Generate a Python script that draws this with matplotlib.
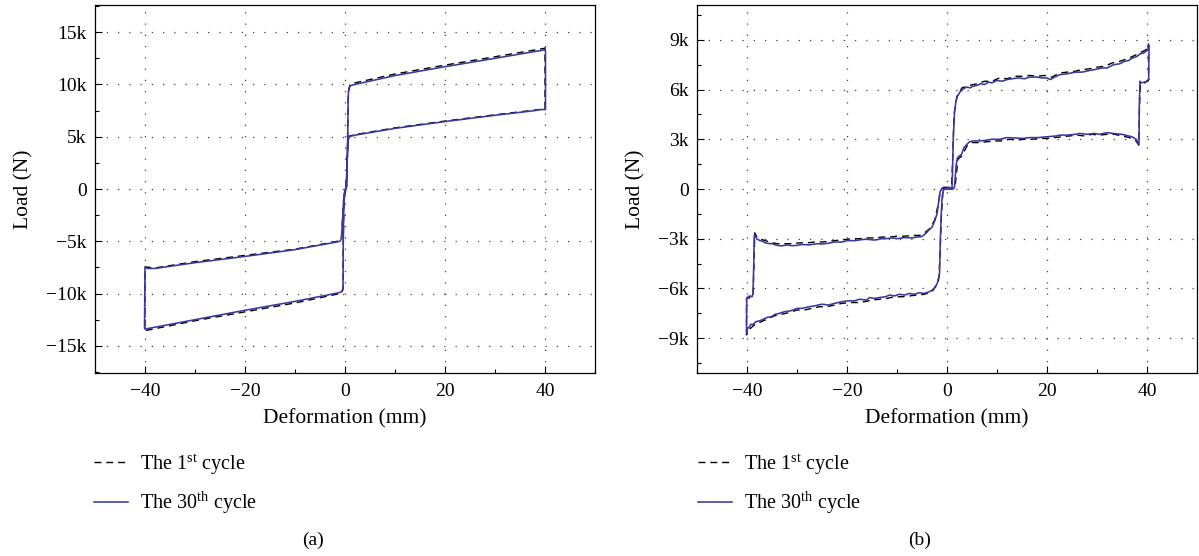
import numpy as np
import matplotlib
matplotlib.use("Agg")
import matplotlib.pyplot as plt
from matplotlib.ticker import MultipleLocator, FuncFormatter

plt.rcParams['font.family'] = ['Liberation Serif', 'DejaVu Serif']
plt.rcParams['mathtext.fontset'] = 'custom'
plt.rcParams['mathtext.rm'] = 'Liberation Serif'
plt.rcParams['mathtext.it'] = 'Liberation Serif:italic'

BLUE = '#3a379f'

# (a) deformation (mm), load (kN) -- 30th cycle
a_30th = [
    (0.33, 0.3), (0.5, 4.0), (0.67, 9.2), (1.0, 9.85), (1.5, 9.95), (10, 10.85),
    (20, 11.7), (30, 12.5), (39.8, 13.3), (40.0, 13.4), (40.1, 13.2), (40.1, 7.6),
    (39, 7.6), (38, 7.5), (30, 7.05), (20, 6.45), (10, 5.8), (2, 5.15), (0.8, 5.0),
    (0.6, 4.5), (0.3, 1.0), (0.1, -0.2), (-0.2, -1.0), (-0.35, -5.0), (-0.4, -9.5),
    (-0.7, -9.85), (-1.5, -9.95), (-10, -10.75), (-20, -11.6), (-30, -12.5),
    (-40, -13.4), (-40.1, -13.3), (-40, -7.5), (-39.5, -7.6), (-38, -7.6),
    (-30, -7.05), (-20, -6.45), (-10, -5.8), (-2, -5.1), (-1, -5.0), (-0.7, -4.7),
    (-0.5, -3.0), (-0.2, -0.5), (0.1, 0.0), (0.33, 0.3),
]
# (a) 1st cycle
a_1st = [
    (0.3, 0.3), (0.5, 4.2), (0.65, 9.3), (1.0, 10.0), (1.5, 10.1), (10, 11.0),
    (20, 11.85), (30, 12.65), (39.8, 13.45), (40.0, 13.5), (40.0, 7.65),
    (38, 7.55), (30, 7.1), (20, 6.5), (10, 5.85), (2, 5.2), (0.8, 5.05),
    (0.6, 4.5), (0.3, 1.0), (0.1, -0.2), (-0.2, -1.0), (-0.35, -5.0), (-0.4, -9.6),
    (-0.7, -9.95), (-1.5, -10.05), (-10, -10.9), (-20, -11.75), (-30, -12.6),
    (-40, -13.55), (-40, -7.45), (-38, -7.55), (-30, -6.95), (-20, -6.35),
    (-10, -5.75), (-2, -5.05), (-1, -4.95), (-0.7, -4.6), (-0.5, -3.0),
    (-0.2, -0.5), (0.1, 0.0), (0.3, 0.3),
]

# (b) 30th cycle
b_30th = [
    (-0.9, 0.05), (-0.3, 0.02), (0.3, 0.08), (0.8, 0.05), (1.0, 0.1), (1.1, 1.0),
    (1.25, 3.0), (1.5, 4.6), (1.8, 5.3), (2.1, 5.6), (2.6, 5.85), (3.3, 6.05),
    (4.0, 6.15), (4.6, 6.1), (5.2, 6.2), (6.0, 6.25), (6.7, 6.35), (7.5, 6.3),
    (8.3, 6.45), (9.0, 6.4), (10.0, 6.55), (11.0, 6.5), (12.0, 6.6), (13.0, 6.65),
    (14.3, 6.7), (15.5, 6.65), (16.5, 6.75), (18.0, 6.75), (19.0, 6.7), (20.0, 6.7),
    (20.7, 6.6), (21.5, 6.75), (22.6, 6.9), (24.0, 6.95), (25.7, 7.05), (27.0, 7.05),
    (28.5, 7.15), (29.5, 7.2), (31.0, 7.3), (32.0, 7.3), (33.3, 7.5), (34.5, 7.55),
    (35.5, 7.7), (36.3, 7.75), (37.1, 7.9), (38.0, 8.0), (38.6, 8.15), (39.3, 8.2),
    (39.8, 8.3), (40.2, 8.4), (40.3, 8.7), (40.4, 8.6), (40.35, 6.6), (40.2, 6.5),
    (39.5, 6.45), (38.8, 6.4), (38.6, 6.5), (38.45, 5.0), (38.4, 2.7), (38.2, 2.8),
    (37.8, 3.0), (37.0, 3.15), (36.3, 3.2), (35.0, 3.3), (33.3, 3.35), (32.0, 3.4),
    (30.5, 3.3), (29.5, 3.35), (28.0, 3.3), (26.5, 3.35), (25.7, 3.3), (24.0, 3.25),
    (22.5, 3.25), (21.9, 3.2), (20.0, 3.15), (18.1, 3.1), (16.5, 3.1), (15.0, 3.05),
    (14.3, 3.07), (12.0, 3.1), (10.5, 3.0), (9.0, 3.0), (8.0, 2.95), (6.7, 2.9),
    (5.2, 2.9), (4.5, 2.85), (4.0, 2.7), (3.4, 2.5), (2.9, 2.1), (2.5, 2.0),
    (2.1, 1.9), (1.8, 1.4), (1.5, 0.1), (1.2, 0.0), (0.6, -0.02), (0.0, 0.03),
    (-0.5, 0.0), (-0.8, -0.1), (-1.0, -0.6), (-1.15, -1.5), (-1.3, -2.7),
    (-1.4, -4.0), (-1.5, -5.1), (-1.7, -5.5), (-2.05, -5.75), (-2.6, -6.0),
    (-3.2, -6.15), (-4.0, -6.25), (-4.7, -6.3), (-5.5, -6.25), (-6.5, -6.35),
    (-7.5, -6.3), (-8.5, -6.4), (-9.5, -6.35), (-10.5, -6.45), (-11.5, -6.4),
    (-12.3, -6.5), (-13.5, -6.55), (-14.5, -6.6), (-15.5, -6.55), (-16.1, -6.7),
    (-17.5, -6.65), (-18.5, -6.75), (-19.9, -6.75), (-21.0, -6.8), (-22.5, -6.9),
    (-23.7, -7.0), (-25.0, -6.95), (-26.5, -7.05), (-27.5, -7.1), (-29.0, -7.2),
    (-30.0, -7.2), (-31.3, -7.35), (-32.5, -7.4), (-33.5, -7.5), (-34.3, -7.55),
    (-35.1, -7.7), (-36.0, -7.75), (-37.4, -7.95), (-38.2, -8.0), (-38.9, -8.2),
    (-39.2, -8.15), (-39.6, -8.35), (-39.9, -8.4), (-40.05, -8.7), (-40.1, -8.5),
    (-40.05, -6.6), (-39.8, -6.5), (-39.4, -6.45), (-39.0, -6.5), (-38.8, -6.35),
    (-38.65, -4.5), (-38.55, -2.8), (-38.4, -2.75), (-38.1, -3.0), (-37.5, -3.1),
    (-36.9, -3.15), (-36.2, -3.27), (-35.0, -3.3), (-34.0, -3.4), (-33.1, -3.43),
    (-32.0, -3.38), (-31.0, -3.42), (-30.0, -3.4), (-29.0, -3.35), (-27.5, -3.37),
    (-26.0, -3.3), (-25.0, -3.32), (-23.7, -3.27), (-22.5, -3.2), (-21.0, -3.2),
    (-19.9, -3.11), (-18.5, -3.12), (-17.0, -3.05), (-16.1, -3.03), (-14.5, -3.08),
    (-13.0, -3.0), (-12.3, -3.0), (-11.0, -2.95), (-10.0, -3.0), (-8.5, -2.93),
    (-7.0, -2.95), (-6.0, -2.9), (-5.1, -2.87), (-4.5, -2.75), (-4.0, -2.6),
    (-3.6, -2.47), (-3.0, -2.3), (-2.4, -1.88), (-2.0, -1.5), (-1.8, -1.08),
    (-1.6, -0.6), (-1.4, -0.18), (-1.1, 0.0), (-0.9, 0.05),
]
# (b) 1st cycle
b_1st = [
    (-0.8, 0.1), (0.9, 0.1), (1.1, 1.5), (1.4, 4.5), (2.0, 5.6), (3.0, 6.1),
    (4.5, 6.25), (6.0, 6.35), (7.5, 6.5), (9.0, 6.5), (10.5, 6.7), (12.0, 6.65),
    (13.5, 6.8), (15.0, 6.8), (16.5, 6.85), (18.0, 6.8), (19.5, 6.85), (21.0, 6.75),
    (22.5, 7.0), (24.0, 7.05), (25.5, 7.1), (27.0, 7.2), (28.5, 7.25), (30.0, 7.35),
    (31.5, 7.4), (33.0, 7.6), (34.5, 7.7), (36.0, 7.85), (37.5, 8.05), (38.5, 8.2),
    (39.5, 8.35), (40.2, 8.5), (40.3, 8.75), (40.3, 6.6), (39.5, 6.4), (38.7, 6.35),
    (38.5, 5.0), (38.35, 2.65), (37.8, 2.9), (36.5, 3.1), (35.0, 3.2), (33.5, 3.3),
    (32.0, 3.3), (30.5, 3.25), (29.0, 3.3), (27.5, 3.2), (26.0, 3.25), (24.5, 3.2),
    (23.0, 3.15), (21.5, 3.1), (20.0, 3.05), (18.5, 3.05), (17.0, 3.0), (15.5, 3.0),
    (14.0, 2.95), (12.5, 3.0), (11.0, 2.9), (9.5, 2.9), (8.0, 2.85), (6.5, 2.8),
    (5.0, 2.8), (4.0, 2.6), (3.0, 2.0), (2.2, 1.8), (1.6, 0.1), (0.0, 0.0),
    (-0.8, -0.1), (-1.1, -1.5), (-1.4, -4.0), (-1.6, -5.3), (-2.2, -5.85),
    (-3.0, -6.2), (-4.5, -6.35), (-6.0, -6.4), (-7.5, -6.45), (-9.0, -6.5),
    (-10.5, -6.5), (-12.0, -6.6), (-13.5, -6.65), (-15.0, -6.7), (-16.5, -6.8),
    (-18.0, -6.85), (-19.5, -6.85), (-21.0, -6.9), (-22.5, -7.0), (-24.0, -7.1),
    (-25.5, -7.1), (-27.0, -7.2), (-28.5, -7.3), (-30.0, -7.3), (-31.5, -7.45),
    (-33.0, -7.55), (-34.5, -7.65), (-36.0, -7.85), (-37.5, -8.05), (-38.5, -8.2),
    (-39.5, -8.45), (-40.1, -8.8), (-40.1, -6.6), (-39.3, -6.55), (-38.8, -6.45),
    (-38.6, -4.5), (-38.45, -2.65), (-38.0, -2.9), (-37.0, -3.05), (-35.5, -3.2),
    (-34.0, -3.3), (-32.5, -3.3), (-31.0, -3.3), (-29.5, -3.25), (-28.0, -3.25),
    (-26.5, -3.2), (-25.0, -3.2), (-23.5, -3.15), (-22.0, -3.1), (-20.5, -3.05),
    (-19.0, -3.0), (-17.5, -3.0), (-16.0, -2.95), (-14.5, -2.95), (-13.0, -2.9),
    (-11.5, -2.9), (-10.0, -2.85), (-8.5, -2.85), (-7.0, -2.8), (-5.5, -2.8),
    (-4.5, -2.65), (-3.5, -2.4), (-2.5, -1.9), (-1.8, -1.0), (-1.3, -0.1), (-0.8, 0.1),
]

labels = ['The 1$^{\\mathrm{st}}$ cycle', 'The 30$^{\\mathrm{th}}$ cycle']


def kfmt(v, pos):
    k = int(round(v / 1000))
    if k == 0:
        return '0'
    return f'\u2212{abs(k)}k' if k < 0 else f'{k}k'


def setup(ax, ylim, ymajor, yminor):
    ax.set_xlim(-50, 50)
    ax.set_ylim(-ylim, ylim)
    ax.xaxis.set_major_locator(MultipleLocator(20))
    ax.xaxis.set_minor_locator(MultipleLocator(10))
    ax.yaxis.set_major_locator(MultipleLocator(ymajor))
    ax.yaxis.set_minor_locator(MultipleLocator(yminor))
    ax.yaxis.set_major_formatter(FuncFormatter(kfmt))
    ax.set_xticks([-40, -20, 0, 20, 40])
    ax.tick_params(which='both', direction='in', top=False, right=False,
                   labelsize=14, width=0.8)
    ax.tick_params(axis='x', pad=7)
    ax.tick_params(axis='y', pad=6)
    ax.tick_params(which='major', length=5)
    ax.tick_params(which='minor', length=3)
    ax.grid(True, which='major', color='0.25', linestyle=(0, (1, 8)), linewidth=0.9)
    for s in ax.spines.values():
        s.set_linewidth(0.9)
    ax.set_xlabel('Deformation (mm)', fontsize=15.5, labelpad=7)
    ax.set_ylabel('Load (N)', fontsize=15.5, labelpad=9)


fig = plt.figure(figsize=(11.99, 5.56), dpi=100)
ax1 = fig.add_axes([95 / 1199, 1 - 373 / 556, 500 / 1199, 368 / 556])
ax2 = fig.add_axes([697 / 1199, 1 - 373 / 556, 500 / 1199, 368 / 556])

for ax, first, last, ylim, ymaj, ymin, tag, tx, lx in [
        (ax1, a_1st, a_30th, 17600, 5000, 2500, '(a)', 313, 99),
        (ax2, b_1st, b_30th, 11100, 3000, 1500, '(b)', 920, 703)]:
    f = np.array(first)
    l = np.array(last)
    h1, = ax.plot(f[:, 0], f[:, 1] * 1000, color='black', lw=1.0,
                  linestyle=(0, (5, 3.5)), zorder=3)
    h2, = ax.plot(l[:, 0], l[:, 1] * 1000, color=BLUE, lw=1.15, zorder=4)
    setup(ax, ylim, ymaj, ymin)
    fig.legend([h1, h2], labels, loc='upper left',
               bbox_to_anchor=(lx / 1199 - 0.004, 1 - 452 / 556), frameon=False,
               fontsize=14.5, handlelength=1.7, handletextpad=0.55,
               labelspacing=0.65, borderpad=0, borderaxespad=0)
    fig.text(tx / 1199, 1 - 540 / 556, tag, ha='center', va='center', fontsize=14)

fig.savefig('out.png', dpi=100)
